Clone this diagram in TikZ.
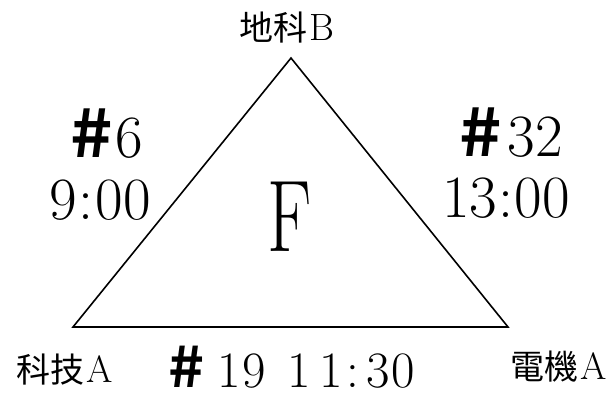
\documentclass[tikz,border=0pt]{standalone}
\usepackage{fontspec}
\newfontfamily\cjk{Noto Sans CJK TC}
\newfontfamily\hashfont{Noto Sans CJK TC Bold}
\newcommand{\lat}[1]{{\fontsize{38}{44}\selectfont\kern2pt #1}}
\newcommand{\hsh}{{\hashfont\scalebox{1.2}[1.1]{\#}}}
\begin{document}
\begin{tikzpicture}[x=1pt,y=-1pt,
  lbl/.style={inner sep=0pt, font=\fontsize{34}{40}\selectfont},
  big/.style={inner sep=0pt, anchor=base, font=\fontsize{60}{70}\selectfont},
  mid/.style={inner sep=0pt, anchor=base, font=\fontsize{51}{60}\selectfont},
  tri/.style={line width=1.6pt, line join=miter}]
\useasboundingbox (0,0) rectangle (616,398);
\coordinate (A) at (291,58);
\coordinate (B) at (73,327);
\coordinate (C) at (508,327);
\draw[tri] (A) -- (B) -- (C) -- cycle;
\node[lbl, anchor=base] (top) at (287,41) {{\cjk 地科}\lat{B}};
\node[big] (n6) at (107,158) {\hsh\kern3pt 6};
\node[big] (t6) at (100,220) {9\kern2pt:\kern2pt 00};
\node[big] (n32) at (511,157) {\hsh\kern6pt 32};
\node[big] (t32) at (506,218) {13\kern1pt:\kern1pt 00};
\node[inner sep=0pt, anchor=base, font=\fontsize{102}{110}\selectfont] (F) at (289.5,252) {\scalebox{0.72}[1]{F}};
\node[lbl, anchor=base] (bl) at (65,382) {{\cjk 科技}\lat{A}};
\node[mid] (n19) at (292,387) {\hsh\kern13pt 1\kern1pt 9\kern7pt{} 1\kern8pt 1\kern4pt:\kern7pt 3\kern2pt 0};
\node[lbl, anchor=base] (br) at (559,379) {{\cjk 電機}\lat{A}};
\end{tikzpicture}
\end{document}
